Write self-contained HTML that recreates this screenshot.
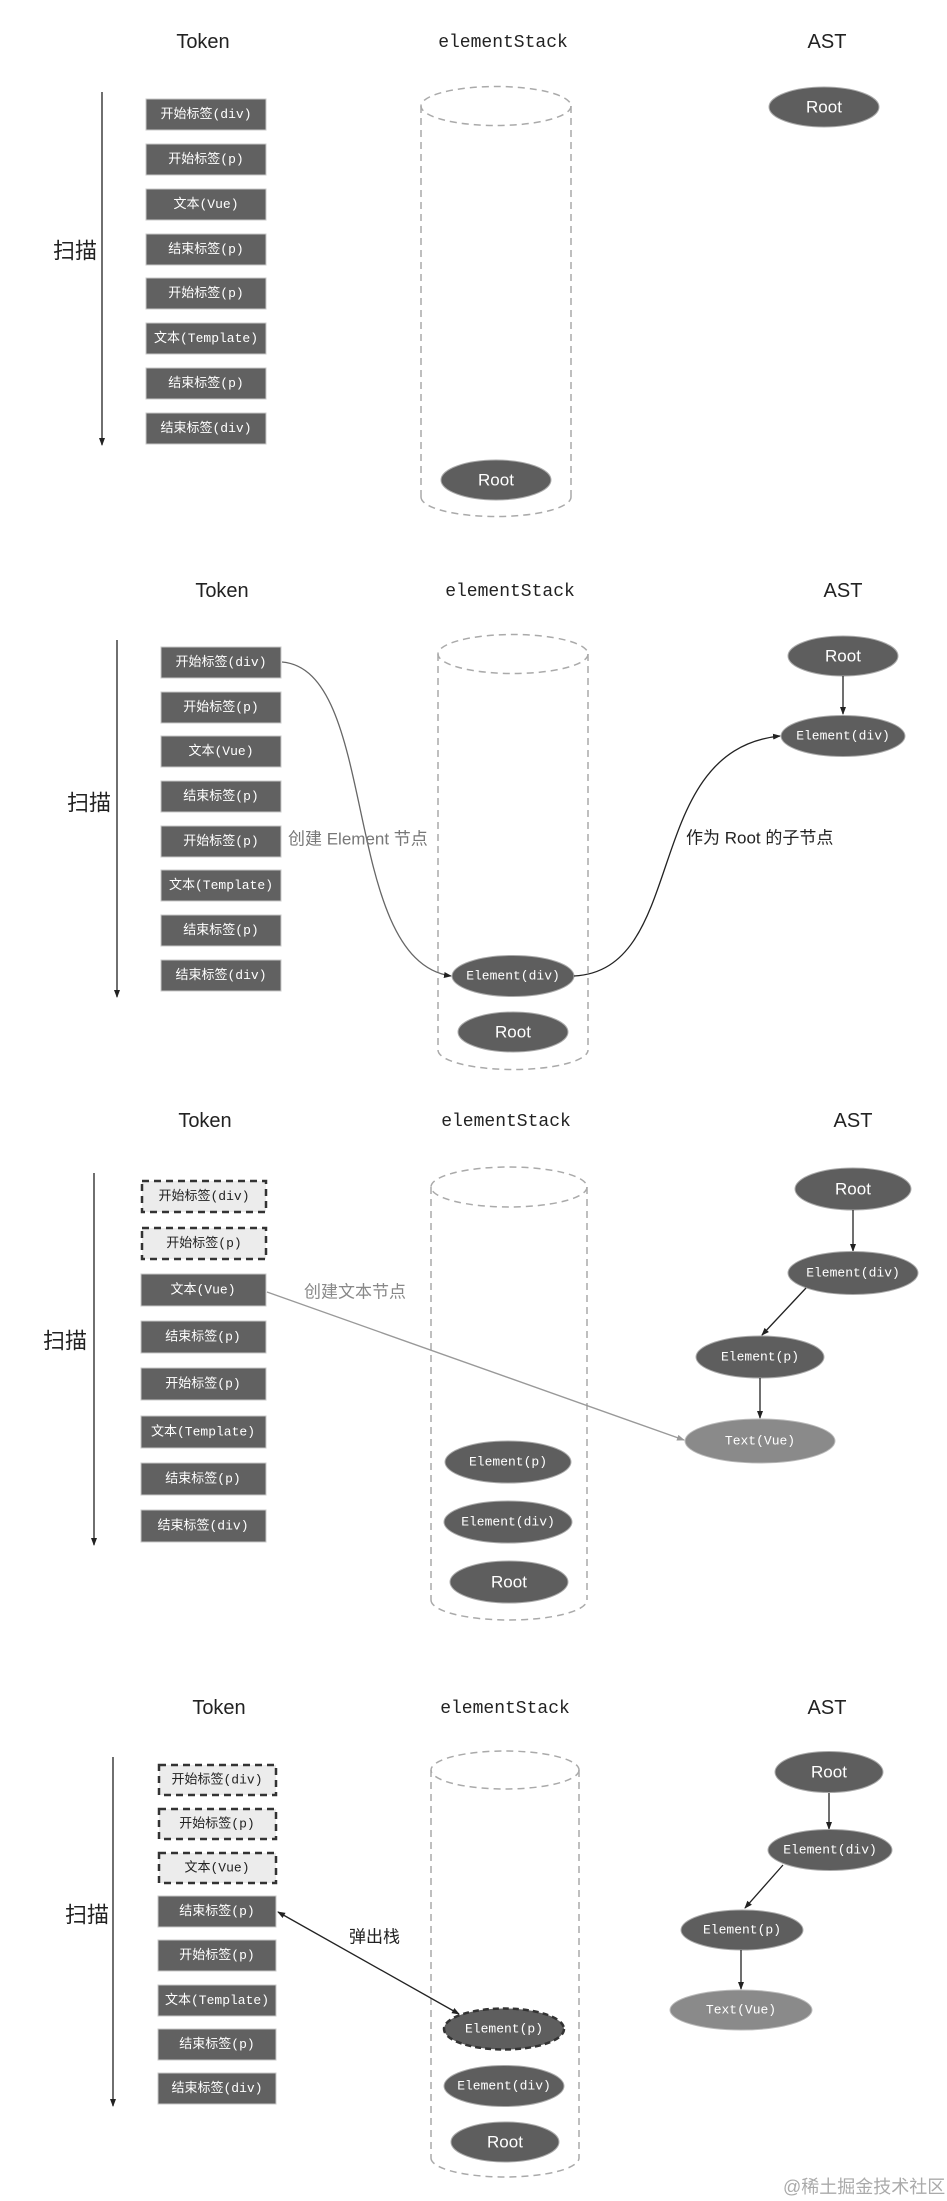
<!DOCTYPE html>
<html><head><meta charset="utf-8"><style>
html,body{margin:0;padding:0;background:#fff;}
svg{display:block;}
.t{font-family:"Liberation Sans","Noto Sans CJK SC",sans-serif;font-size:20px;fill:#222;text-anchor:middle;}
.tm{font-family:"Liberation Mono","Noto Sans CJK SC",monospace;font-size:18px;fill:#222;text-anchor:middle;}
.bx{fill:#616161;stroke:#c8c8c8;stroke-width:1;}
.dbx{fill:#ececec;stroke:#333;stroke-width:2.5;stroke-dasharray:7,5;}
.bt{font-family:"Liberation Mono","Noto Sans CJK SC",monospace;font-size:13px;fill:#fff;text-anchor:middle;dominant-baseline:central;}
.dbt{font-family:"Liberation Mono","Noto Sans CJK SC",monospace;font-size:13px;fill:#222;text-anchor:middle;dominant-baseline:central;}
.el{fill:#5e5e5e;stroke:#aaa;stroke-width:1;}
.el2{fill:#8a8a8a;stroke:#bbb;stroke-width:1;}
.et{font-family:"Liberation Mono","Noto Sans CJK SC",monospace;font-size:13px;fill:#fff;text-anchor:middle;dominant-baseline:central;}
.rt{font-family:"Liberation Sans",sans-serif;font-size:17px;fill:#fff;text-anchor:middle;dominant-baseline:central;}
.cy{fill:none;stroke:#aaa;stroke-width:1.5;stroke-dasharray:7,5;}
.sc{font-family:"Liberation Sans","Noto Sans CJK SC",sans-serif;font-size:22px;fill:#222;dominant-baseline:central;}
.ln{stroke:#222;stroke-width:1.3;fill:none;}
.lab{font-family:"Liberation Sans","Noto Sans CJK SC",sans-serif;font-size:17px;dominant-baseline:central;}
</style></head><body>
<svg width="947" height="2201" viewBox="0 0 947 2201" xmlns="http://www.w3.org/2000/svg">
<defs>
<marker id="ah" markerWidth="8" markerHeight="8" refX="7" refY="4" orient="auto" markerUnits="userSpaceOnUse"><path d="M0,1 L8,4 L0,7 Z" fill="#222"/></marker>
<marker id="ahs" markerWidth="8" markerHeight="8" refX="1" refY="4" orient="auto" markerUnits="userSpaceOnUse"><path d="M8,1 L0,4 L8,7 Z" fill="#222"/></marker>
<marker id="ahg" markerWidth="8" markerHeight="8" refX="7" refY="4" orient="auto" markerUnits="userSpaceOnUse"><path d="M0,1 L8,4 L0,7 Z" fill="#999"/></marker>
</defs>

<text class="t" x="203" y="48">Token</text>
<text class="tm" x="503" y="47">elementStack</text>
<text class="t" x="827" y="48">AST</text>
<line class="ln" x1="102" y1="92" x2="102" y2="445" marker-end="url(#ah)"/>
<text class="sc" x="53" y="251">扫描</text>
<g>
<rect class="bx" x="146" y="99" width="120" height="31"/><text class="bt" x="206" y="114.5">开始标签(div)</text>
<rect class="bx" x="146" y="144" width="120" height="31"/><text class="bt" x="206" y="159.5">开始标签(p)</text>
<rect class="bx" x="146" y="189" width="120" height="31"/><text class="bt" x="206" y="204.5">文本(Vue)</text>
<rect class="bx" x="146" y="234" width="120" height="31"/><text class="bt" x="206" y="249.5">结束标签(p)</text>
<rect class="bx" x="146" y="278" width="120" height="31"/><text class="bt" x="206" y="293.5">开始标签(p)</text>
<rect class="bx" x="146" y="323" width="120" height="31"/><text class="bt" x="206" y="338.5">文本(Template)</text>
<rect class="bx" x="146" y="368" width="120" height="31"/><text class="bt" x="206" y="383.5">结束标签(p)</text>
<rect class="bx" x="146" y="413" width="120" height="31"/><text class="bt" x="206" y="428.5">结束标签(div)</text>
</g>
<ellipse class="cy" cx="496" cy="106" rx="75" ry="19.5"/>
<line class="cy" x1="421" y1="106" x2="421" y2="497"/><line class="cy" x1="571" y1="106" x2="571" y2="497"/>
<path class="cy" d="M421,497 A75,19.5 0 0 0 571,497"/>
<ellipse class="el" cx="496" cy="480" rx="55" ry="20"/><text class="rt" x="496" y="480">Root</text>
<ellipse class="el" cx="824" cy="107" rx="55" ry="20"/><text class="rt" x="824" y="107">Root</text>

<text class="t" x="222" y="597">Token</text>
<text class="tm" x="510" y="596">elementStack</text>
<text class="t" x="843" y="597">AST</text>
<line class="ln" x1="117" y1="640" x2="117" y2="997" marker-end="url(#ah)"/>
<text class="sc" x="67" y="803">扫描</text>
<g>
<rect class="bx" x="161" y="647" width="120" height="31"/><text class="bt" x="221" y="662.5">开始标签(div)</text>
<rect class="bx" x="161" y="692" width="120" height="31"/><text class="bt" x="221" y="707.5">开始标签(p)</text>
<rect class="bx" x="161" y="736" width="120" height="31"/><text class="bt" x="221" y="751.5">文本(Vue)</text>
<rect class="bx" x="161" y="781" width="120" height="31"/><text class="bt" x="221" y="796.5">结束标签(p)</text>
<rect class="bx" x="161" y="826" width="120" height="31"/><text class="bt" x="221" y="841.5">开始标签(p)</text>
<rect class="bx" x="161" y="870" width="120" height="31"/><text class="bt" x="221" y="885.5">文本(Template)</text>
<rect class="bx" x="161" y="915" width="120" height="31"/><text class="bt" x="221" y="930.5">结束标签(p)</text>
<rect class="bx" x="161" y="960" width="120" height="31"/><text class="bt" x="221" y="975.5">结束标签(div)</text>
</g>
<ellipse class="cy" cx="513" cy="654" rx="75" ry="19.5"/>
<line class="cy" x1="438" y1="654" x2="438" y2="1050"/><line class="cy" x1="588" y1="654" x2="588" y2="1050"/>
<path class="cy" d="M438,1050 A75,19.5 0 0 0 588,1050"/>
<path d="M282,662 C380,670 340,960 451,976" fill="none" stroke="#666" stroke-width="1.3" marker-end="url(#ah)"/>
<text class="lab" x="288" y="839" fill="#777">创建 Element 节点</text>
<ellipse class="el" cx="513" cy="976" rx="61" ry="20.5"/><text class="et" x="513" y="976">Element(div)</text>
<ellipse class="el" cx="513" cy="1032" rx="55" ry="20"/><text class="rt" x="513" y="1032">Root</text>
<path d="M574,976 C690,970 640,750 780,736" fill="none" stroke="#222" stroke-width="1.3" marker-end="url(#ah)"/>
<text class="lab" x="686" y="838" fill="#222">作为 Root 的子节点</text>
<ellipse class="el" cx="843" cy="656" rx="55" ry="20"/><text class="rt" x="843" y="656">Root</text>
<line class="ln" x1="843" y1="676" x2="843" y2="714" marker-end="url(#ah)"/>
<ellipse class="el" cx="843" cy="736" rx="62" ry="20.5"/><text class="et" x="843" y="736">Element(div)</text>

<text class="t" x="205" y="1127">Token</text>
<text class="tm" x="506" y="1126">elementStack</text>
<text class="t" x="853" y="1127">AST</text>
<line class="ln" x1="94" y1="1173" x2="94" y2="1545" marker-end="url(#ah)"/>
<text class="sc" x="43" y="1341">扫描</text>
<g>
<rect class="dbx" x="142" y="1181" width="124" height="31"/><text class="dbt" x="204" y="1196.5">开始标签(div)</text>
<rect class="dbx" x="142" y="1228" width="124" height="31"/><text class="dbt" x="204" y="1243.5">开始标签(p)</text>
<rect class="bx" x="141" y="1274" width="125" height="32"/><text class="bt" x="203" y="1290">文本(Vue)</text>
<rect class="bx" x="141" y="1321" width="125" height="32"/><text class="bt" x="203" y="1337">结束标签(p)</text>
<rect class="bx" x="141" y="1368" width="125" height="32"/><text class="bt" x="203" y="1384">开始标签(p)</text>
<rect class="bx" x="141" y="1416" width="125" height="32"/><text class="bt" x="203" y="1432">文本(Template)</text>
<rect class="bx" x="141" y="1463" width="125" height="32"/><text class="bt" x="203" y="1479">结束标签(p)</text>
<rect class="bx" x="141" y="1510" width="125" height="32"/><text class="bt" x="203" y="1526">结束标签(div)</text>
</g>
<ellipse class="cy" cx="509" cy="1187" rx="78" ry="20"/>
<line class="cy" x1="431" y1="1187" x2="431" y2="1600"/><line class="cy" x1="587" y1="1187" x2="587" y2="1600"/>
<path class="cy" d="M431,1600 A78,20 0 0 0 587,1600"/>
<ellipse class="el" cx="508" cy="1462" rx="63" ry="21"/><text class="et" x="508" y="1462">Element(p)</text>
<ellipse class="el" cx="508" cy="1522" rx="64" ry="21"/><text class="et" x="508" y="1522">Element(div)</text>
<ellipse class="el" cx="509" cy="1582" rx="59" ry="21"/><text class="rt" x="509" y="1582">Root</text>
<line x1="267" y1="1292" x2="684" y2="1440" stroke="#999" stroke-width="1.4" marker-end="url(#ahg)"/>
<text class="lab" x="304" y="1292" fill="#888">创建文本节点</text>
<ellipse class="el" cx="853" cy="1189" rx="58" ry="21"/><text class="rt" x="853" y="1189">Root</text>
<line class="ln" x1="853" y1="1210" x2="853" y2="1251" marker-end="url(#ah)"/>
<ellipse class="el" cx="853" cy="1273" rx="65" ry="21.5"/><text class="et" x="853" y="1273">Element(div)</text>
<line class="ln" x1="806" y1="1288" x2="762" y2="1335" marker-end="url(#ah)"/>
<ellipse class="el" cx="760" cy="1357" rx="64" ry="21"/><text class="et" x="760" y="1357">Element(p)</text>
<line class="ln" x1="760" y1="1378" x2="760" y2="1418" marker-end="url(#ah)"/>
<ellipse class="el2" cx="760" cy="1441" rx="75" ry="22"/><text class="et" x="760" y="1441">Text(Vue)</text>

<text class="t" x="219" y="1714">Token</text>
<text class="tm" x="505" y="1713">elementStack</text>
<text class="t" x="827" y="1714">AST</text>
<line class="ln" x1="113" y1="1757" x2="113" y2="2106" marker-end="url(#ah)"/>
<text class="sc" x="65" y="1915">扫描</text>
<g>
<rect class="dbx" x="159" y="1765" width="117" height="30"/><text class="dbt" x="217" y="1780">开始标签(div)</text>
<rect class="dbx" x="159" y="1809" width="117" height="30"/><text class="dbt" x="217" y="1824">开始标签(p)</text>
<rect class="dbx" x="159" y="1853" width="117" height="30"/><text class="dbt" x="217" y="1868">文本(Vue)</text>
<rect class="bx" x="158" y="1896" width="118" height="31"/><text class="bt" x="217" y="1911.5">结束标签(p)</text>
<rect class="bx" x="158" y="1940" width="118" height="31"/><text class="bt" x="217" y="1955.5">开始标签(p)</text>
<rect class="bx" x="158" y="1985" width="118" height="31"/><text class="bt" x="217" y="2000.5">文本(Template)</text>
<rect class="bx" x="158" y="2029" width="118" height="31"/><text class="bt" x="217" y="2044.5">结束标签(p)</text>
<rect class="bx" x="158" y="2073" width="118" height="31"/><text class="bt" x="217" y="2088.5">结束标签(div)</text>
</g>
<ellipse class="cy" cx="505" cy="1770" rx="74" ry="19"/>
<line class="cy" x1="431" y1="1770" x2="431" y2="2158"/><line class="cy" x1="579" y1="1770" x2="579" y2="2158"/>
<path class="cy" d="M431,2158 A74,19 0 0 0 579,2158"/>
<line class="ln" x1="278" y1="1912" x2="459" y2="2014" marker-start="url(#ahs)" marker-end="url(#ah)"/>
<text class="lab" x="349" y="1937" fill="#222">弹出栈</text>
<ellipse cx="504" cy="2029" rx="60" ry="20.5" fill="#5e5e5e" stroke="#333" stroke-width="2.5" stroke-dasharray="6,4"/><text class="et" x="504" y="2029">Element(p)</text>
<ellipse class="el" cx="504" cy="2086" rx="60" ry="20.5"/><text class="et" x="504" y="2086">Element(div)</text>
<ellipse class="el" cx="505" cy="2142" rx="54" ry="20"/><text class="rt" x="505" y="2142">Root</text>
<ellipse class="el" cx="829" cy="1772" rx="54" ry="20.5"/><text class="rt" x="829" y="1772">Root</text>
<line class="ln" x1="829" y1="1793" x2="829" y2="1829" marker-end="url(#ah)"/>
<ellipse class="el" cx="830" cy="1850" rx="62" ry="20.5"/><text class="et" x="830" y="1850">Element(div)</text>
<line class="ln" x1="783" y1="1865" x2="745" y2="1908" marker-end="url(#ah)"/>
<ellipse class="el" cx="742" cy="1930" rx="61" ry="20"/><text class="et" x="742" y="1930">Element(p)</text>
<line class="ln" x1="741" y1="1950" x2="741" y2="1989" marker-end="url(#ah)"/>
<ellipse class="el2" cx="741" cy="2010" rx="71" ry="20"/><text class="et" x="741" y="2010">Text(Vue)</text>

<text x="783" y="2187" font-family="'Liberation Sans','Noto Sans CJK SC',sans-serif" font-size="18" fill="#aaa" dominant-baseline="central">@稀土掘金技术社区</text>
</svg>
</body></html>
